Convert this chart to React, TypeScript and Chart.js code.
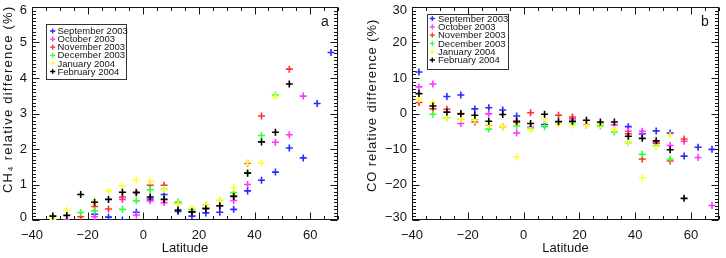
import React, { useEffect, useRef } from 'react';
import { Chart, registerables } from 'chart.js';

Chart.register(...registerables);

// Month series shared by both panels
const MONTHS = ['September 2003', 'October 2003', 'November 2003', 'December 2003', 'January 2004', 'February 2004'];
const MONTH_COLORS = ['#2a2aff', '#ff35ff', '#ff3030', '#35ff35', '#ffff30', '#000000'];

// Panel a: CH4 relative difference (%) by latitude bin
const CH4_LAT = [-32.5, -27.5, -22.5, -17.5, -12.5, -7.5, -2.5, 2.5, 7.5, 12.5, 17.5, 22.5, 27.5, 32.5, 37.5, 42.5, 47.5, 52.5, 57.5, 62.5, 67.5];
const CH4_SEP = [null, null, null, 0.16, 0.08, 0.0, 0.22, 0.59, 0.72, 0.24, 0.11, 0.2, 0.22, 0.3, 0.82, 1.12, 1.35, 2.03, 1.75, 3.28, 4.72];
const CH4_OCT = [null, 0.0, null, 0.09, null, 0.58, 0.14, 0.54, 0.49, null, null, null, null, 0.55, 1.0, null, 2.19, 2.4, 3.49, null, null];
const CH4_NOV = [null, null, 0.09, 0.38, 0.31, 0.65, 0.78, 0.98, 0.98, 0.47, 0.23, 0.33, 0.4, 0.68, 1.6, 2.93, null, 4.25, null, null, null];
const CH4_DEC = [null, null, 0.21, 0.26, null, 0.3, 0.54, 0.85, 0.87, 0.51, 0.3, 0.42, 0.55, 0.77, 1.34, 2.38, 3.52, null, null, null, null];
const CH4_JAN = [0.02, 0.28, null, 0.53, 0.82, 0.96, 1.12, 1.1, 0.86, 0.45, 0.34, 0.42, 0.56, 0.91, 1.62, 1.61, 3.48, null, null, null, null];
const CH4_FEB = [0.11, 0.13, 0.72, 0.5, 0.58, 0.78, 0.77, 0.65, 0.58, 0.28, 0.23, 0.32, 0.4, 0.66, 1.32, 2.2, 2.47, 3.83, null, null, null];

// Panel b: CO relative difference (%) by latitude bin
const CO_LAT = [-37.5, -32.5, -27.5, -22.5, -17.5, -12.5, -7.5, -2.5, 2.5, 7.5, 12.5, 17.5, 22.5, 27.5, 32.5, 37.5, 42.5, 47.5, 52.5, 57.5, 62.5, 67.5];
const CO_SEP = [11.7, null, 4.8, 5.2, 1.3, 1.6, 1.0, -0.7, null, -3.1, null, null, null, null, null, -3.7, -5.7, -4.9, -5.5, -12.0, -9.5, -10.1];
const CO_OCT = [7.5, 8.3, null, -2.8, null, -0.1, null, -5.5, -3.8, null, null, -1.5, null, null, -3.2, -5.0, -5.0, -8.2, -9.0, -7.8, -12.4, -25.9];
const CO_NOV = [3.1, 1.3, 1.2, 0.0, -2.4, -3.3, -3.7, -2.5, 0.2, null, -0.5, -1.0, -3.3, -3.0, null, -5.7, -12.8, -8.4, -13.4, -7.2, null, null];
const CO_DEC = [null, -0.2, -1.2, -1.5, -1.8, -4.4, null, -3.5, -4.1, -3.7, null, -2.6, null, -3.5, -5.2, -8.2, -11.5, -9.0, -12.8, null, null, null];
const CO_JAN = [4.0, 3.0, -1.3, -1.5, -1.9, -3.2, -3.7, -12.2, -4.7, -1.7, -3.0, -3.4, -3.4, -3.0, -4.4, -8.0, -18.1, -9.3, -6.2, null, null, null];
const CO_FEB = [5.6, 2.1, 0.4, -0.1, -0.5, -2.2, -0.3, -2.2, -2.8, -0.2, -2.3, -2.2, -1.9, -2.4, -2.4, -6.4, -7.0, -7.7, -10.2, -23.9, null, null];

const X_MIN = -40;
const X_MAX = 70;
const X_MAJOR = 20;
const X_MINOR = 5;
const X_TITLE = 'Latitude';

const FONT = '"Liberation Sans", Arial, sans-serif';
const INK = '#151515';

const fmt = (v: number) => (v < 0 ? '\u2212' + Math.abs(v) : String(v));

type Series = (number | null)[];

type PanelSpec = {
  lats: number[];
  series: Series[];
  yMin: number;
  yMax: number;
  yMajor: number;
  yMinor: number;
  yTitle: string;
  yTitleX: number;
  yTitleFrom: number;
  yTitleTo: number;
  tag: string;
  tagX: number;
  axisWidth: number;
  padRight: number;
  legend: { x: number; y: number; w: number; h: number; rowStart: number; rowStep: number; markX: number; textX: number };
};

const PANEL_A: PanelSpec = {
  lats: CH4_LAT,
  series: [CH4_SEP, CH4_OCT, CH4_NOV, CH4_DEC, CH4_JAN, CH4_FEB],
  yMin: 0,
  yMax: 6,
  yMajor: 1,
  yMinor: 0.1,
  yTitle: 'CH\u2084 relative difference (%)',
  yTitleX: 8.5,
  yTitleFrom: 193,
  yTitleTo: 7,
  tag: 'a',
  tagX: 325,
  axisWidth: 32,
  padRight: 25,
  legend: { x: 46, y: 24, w: 80, h: 55, rowStart: 31, rowStep: 8.1, markX: 52.7, textX: 57.5 },
};

const PANEL_B: PanelSpec = {
  lats: CO_LAT,
  series: [CO_SEP, CO_OCT, CO_NOV, CO_DEC, CO_JAN, CO_FEB],
  yMin: -30,
  yMax: 30,
  yMajor: 10,
  yMinor: 1,
  yTitle: 'CO relative difference (%)',
  yTitleX: 9,
  yTitleFrom: 192,
  yTitleTo: 20,
  tag: 'b',
  tagX: 342,
  axisWidth: 49,
  padRight: 7,
  legend: { x: 63.5, y: 13.5, w: 80.5, h: 54.5, rowStart: 18.5, rowStep: 8.3, markX: 69.3, textX: 75 },
};

function drawCross(ctx: CanvasRenderingContext2D, x: number, y: number, r: number) {
  ctx.moveTo(x - r, y);
  ctx.lineTo(x + r, y);
  ctx.moveTo(x, y - r);
  ctx.lineTo(x, y + r);
}

// Text laid out glyph by glyph with even extra spacing so it spans a given length
function drawSpacedText(ctx: CanvasRenderingContext2D, text: string, length: number) {
  const chars = Array.from(text);
  const natural = ctx.measureText(text).width;
  const extra = chars.length > 1 ? (length - natural) / (chars.length - 1) : 0;
  let pos = 0;
  for (const ch of chars) {
    ctx.fillText(ch, pos, 0);
    pos += ctx.measureText(ch).width + extra;
  }
}

function framePlugin(p: PanelSpec) {
  return {
    id: 'idlFrame',
    beforeDatasetsDraw(chart: Chart) {
      const { ctx, chartArea: a, scales } = chart;
      const xs = scales.x;
      const ys = scales.y;
      const L = Math.round(a.left) + 0.5;
      const R = Math.round(a.right) - 0.5;
      const T = Math.round(a.top) + 0.5;
      const B = Math.round(a.bottom) - 0.5;
      ctx.save();
      ctx.strokeStyle = INK;
      ctx.lineWidth = 1;
      ctx.strokeRect(L, T, R - L, B - T);
      ctx.beginPath();
      const nx = Math.round((X_MAX - X_MIN) / X_MINOR);
      for (let i = 0; i <= nx; i++) {
        const v = X_MIN + i * X_MINOR;
        const px = Math.round(xs.getPixelForValue(v)) + 0.5;
        const len = v % X_MAJOR === 0 ? 7 : 3.5;
        ctx.moveTo(px, B);
        ctx.lineTo(px, B - len);
        ctx.moveTo(px, T);
        ctx.lineTo(px, T + len);
      }
      const ny = Math.round((p.yMax - p.yMin) / p.yMinor);
      for (let i = 0; i <= ny; i++) {
        const v = p.yMin + i * p.yMinor;
        const q = v / p.yMajor;
        const major = Math.abs(q - Math.round(q)) < 1e-6;
        const py = Math.round(ys.getPixelForValue(v)) + 0.5;
        const len = major ? 7 : 3.5;
        ctx.moveTo(L, py);
        ctx.lineTo(L + len, py);
        ctx.moveTo(R, py);
        ctx.lineTo(R - len, py);
      }
      ctx.stroke();

      // y tick labels, end labels kept inside the frame height
      ctx.fillStyle = INK;
      ctx.font = `13px ${FONT}`;
      ctx.textAlign = 'right';
      ctx.textBaseline = 'middle';
      for (const t of ys.ticks) {
        const py = ys.getPixelForValue(t.value);
        const ly = Math.min(Math.max(py, a.top + 3.3), a.bottom - 3);
        ctx.fillText(fmt(t.value), a.left - 5, ly);
      }

      // axis titles
      ctx.textAlign = 'center';
      ctx.fillText(X_TITLE, (a.left + a.right) / 2, 248);

      ctx.save();
      ctx.translate(p.yTitleX, p.yTitleFrom);
      ctx.rotate(-Math.PI / 2);
      ctx.textAlign = 'left';
      drawSpacedText(ctx, p.yTitle, p.yTitleFrom - p.yTitleTo);
      ctx.restore();
      ctx.restore();
    },
    afterDraw(chart: Chart) {
      const { ctx } = chart;
      const lg = p.legend;
      ctx.save();
      ctx.strokeStyle = '#333333';
      ctx.lineWidth = 1;
      ctx.strokeRect(Math.round(lg.x) + 0.5, Math.round(lg.y) + 0.5, Math.round(lg.w), Math.round(lg.h));
      ctx.font = `9.5px ${FONT}`;
      ctx.textBaseline = 'middle';
      ctx.textAlign = 'left';
      MONTHS.forEach((m, i) => {
        const ry = lg.rowStart + i * lg.rowStep;
        ctx.beginPath();
        ctx.strokeStyle = MONTH_COLORS[i];
        ctx.lineWidth = 1.3;
        drawCross(ctx, lg.markX, ry, 2.6);
        ctx.stroke();
        ctx.fillStyle = INK;
        ctx.fillText(m, lg.textX, ry + 0.5);
      });
      ctx.font = `14px ${FONT}`;
      ctx.textAlign = 'center';
      ctx.textBaseline = 'alphabetic';
      ctx.fillStyle = INK;
      ctx.fillText(p.tag, p.tagX, 26);
      ctx.restore();
    },
  };
}

function Panel({ spec }: { spec: PanelSpec }) {
  const ref = useRef<HTMLCanvasElement | null>(null);

  useEffect(() => {
    const canvas = ref.current;
    if (!canvas) return;
    const p = spec;
    const datasets = MONTHS.map((m, i) => ({
      label: m,
      data: p.lats
        .map((lat, j) => ({ x: lat, y: p.series[i][j] }))
        .filter((d) => d.y !== null) as { x: number; y: number }[],
      pointStyle: 'cross' as const,
      pointRadius: 3.5,
      pointBorderWidth: 1.6,
      borderColor: MONTH_COLORS[i],
      backgroundColor: MONTH_COLORS[i],
      showLine: false,
      order: MONTHS.length - 1 - i,
    }));

    const chart = new Chart(canvas, {
      type: 'scatter',
      data: { datasets },
      options: {
        animation: false,
        responsive: false,
        events: [],
        layout: { padding: { left: 0, top: 7, right: p.padRight, bottom: 0 } },
        plugins: { legend: { display: false }, tooltip: { enabled: false } },
        scales: {
          x: {
            type: 'linear',
            min: X_MIN,
            max: X_MAX,
            afterFit: (s: any) => {
              s.height = 38;
            },
            grid: { display: false, drawTicks: false },
            border: { display: false },
            ticks: {
              stepSize: X_MAJOR,
              includeBounds: false,
              padding: 8,
              color: INK,
              maxRotation: 0,
              autoSkip: false,
              font: { family: FONT, size: 13 },
              callback: (v: any) => (Number(v) % X_MAJOR === 0 ? fmt(Number(v)) : ''),
            },
            title: { display: false },
          },
          y: {
            type: 'linear',
            min: p.yMin,
            max: p.yMax,
            afterFit: (s: any) => {
              s.width = p.axisWidth;
            },
            grid: { display: false, drawTicks: false },
            border: { display: false },
            ticks: {
              stepSize: p.yMajor,
              display: false,
              padding: 0,
            },
            title: { display: false },
          },
        },
      },
      plugins: [framePlugin(p)],
    });
    return () => chart.destroy();
  }, [spec]);

  return <canvas ref={ref} width={363} height={258} style={{ display: 'block', width: 363, height: 258 }} />;
}

export default function App() {
  return (
    <div style={{ position: 'absolute', left: 0, top: 0, width: 726, height: 258, background: '#ffffff', display: 'flex' }}>
      <Panel spec={PANEL_A} />
      <Panel spec={PANEL_B} />
    </div>
  );
}
